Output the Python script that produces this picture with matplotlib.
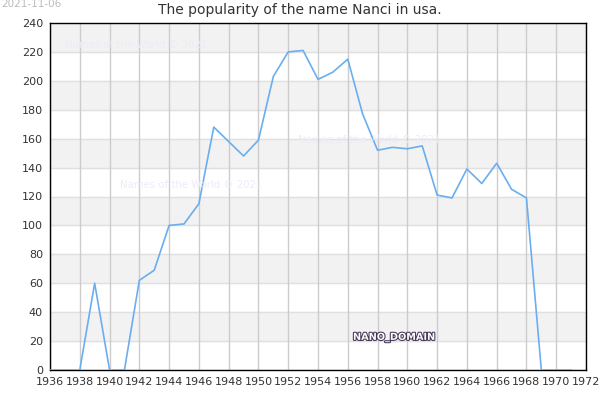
import matplotlib.pyplot as plt
import matplotlib.patheffects as pe

years = list(range(1936, 1972))
counts = [0, 0, 0, 60, 0, 0, 62, 69, 100, 101, 115, 168, 158, 148, 159, 203,
          220, 221, 201, 206, 215, 177, 152, 154, 153, 155, 121, 119, 139, 129,
          143, 125, 119, 0, 0, 0]
xticks = list(range(1936, 1973, 2))
yticks = list(range(0, 241, 20))

fig = plt.figure(figsize=(6, 4), dpi=100)
ax = fig.add_axes([50 / 600, 30 / 400, 536 / 600, 347 / 400])

# alternating bands
for y0 in range(20, 240, 40):
    ax.axhspan(y0, y0 + 20, color='#f2f2f2', zorder=0)
for y in yticks:
    ax.axhline(y, color='#e0e0e0', lw=1, zorder=1)
for x in xticks:
    ax.axvline(x, color='#cccccc', lw=1, zorder=1)

ax.plot(years, counts, color='#6aaef0', lw=1.2, zorder=3)

ax.set_xlim(1936, 1972)
ax.set_ylim(0, 240)
ax.set_xticks(xticks)
ax.set_yticks(yticks)
ax.tick_params(labelsize=8, length=0, colors='#333333', pad=5)
for s in ax.spines.values():
    s.set_color('black')
    s.set_linewidth(1)

# watermarks
for wx, wy in [(65, 45), (120, 185), (298, 140)]:
    fig.text(wx / 600, 1 - wy / 400, 'Names of the World © 2021', color='#ececf8',
             fontsize=7.3, va='center')

t = fig.text(353 / 600, 1 - 337 / 400, 'NANO_DOMAIN', color='white', fontsize=7,
             va='center', fontweight='bold')
t.set_path_effects([pe.withStroke(linewidth=1.5, foreground='#443355')])

fig.text(0.5, 1 - 10 / 400, 'The popularity of the name Nanci in usa.', ha='center',
         va='center', fontsize=10, color='#333333')
fig.text(1 / 600, 1 - 4 / 400, '2021-11-06', fontsize=7.5, color='#bbbbbb', va='center')

fig.savefig('out.png', dpi=100)
